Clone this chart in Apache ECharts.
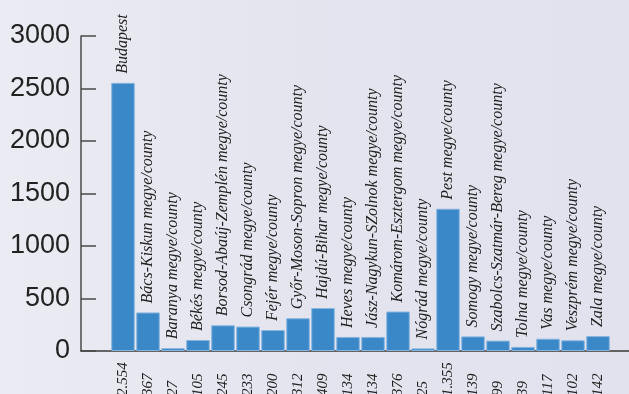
<!DOCTYPE html>
<html>
<head>
<meta charset="utf-8">
<script src="https://cdn.jsdelivr.net/npm/echarts@6/dist/echarts.min.js"></script>
<style>
html,body{margin:0;padding:0;background:#e6e6ef;}
#chart{width:629px;height:394px;}
</style>
</head>
<body>
<div id="chart"></div>
<script>
var categories = [
  "Budapest",
  "Bács-Kiskun megye/county",
  "Baranya megye/county",
  "Békés megye/county",
  "Borsod-Abaúj-Zemplén megye/county",
  "Csongrád megye/county",
  "Fejér megye/county",
  "Győr-Moson-Sopron megye/county",
  "Hajdú-Bihar megye/county",
  "Heves megye/county",
  "Jász-Nagykun-SZolnok megye/county",
  "Komárom-Esztergom megye/county",
  "Nógrád megye/county",
  "Pest megye/county",
  "Somogy megye/county",
  "Szabolcs-Szatmár-Bereg megye/county",
  "Tolna megye/county",
  "Vas megye/county",
  "Veszprém megye/county",
  "Zala megye/county"
];
var values = [2554, 367, 27, 105, 245, 233, 200, 312, 409, 134, 134, 376, 25, 1355, 139, 99, 39, 117, 102, 142];
var valueLabels = ["2.554","367","27","105","245","233","200","312","409","134","134","376","25","1.355","139","99","39","117","102","142"];
var yTicks = [0, 500, 1000, 1500, 2000, 2500, 3000];

var chart = echarts.init(document.getElementById('chart'), null, {renderer: 'canvas'});
var serif = "'Liberation Serif', 'DejaVu Serif', serif";
chart.setOption({
  backgroundColor: {
    type: 'linear', x: 0, y: 0, x2: 1, y2: 0,
    colorStops: [
      {offset: 0, color: '#ebebf3'},
      {offset: 0.5, color: '#e4e4ef'},
      {offset: 1, color: '#e2e2ee'}
    ]
  },
  animation: false,
  grid: [
    {left: 81, right: 0, top: 36, bottom: 43, containLabel: false, outerBoundsMode: 'none'},
    {left: 110.5, width: 500, top: 36, bottom: 43, containLabel: false, outerBoundsMode: 'none'}
  ],
  xAxis: [
    {
      gridIndex: 0, type: 'category', data: [''],
      axisLine: {show: true, lineStyle: {color: '#3a3a3a', width: 1.5}},
      axisTick: {show: false}, axisLabel: {show: false}
    },
    {
      gridIndex: 1, type: 'category', data: valueLabels,
      axisLine: {show: false}, axisTick: {show: false},
      axisLabel: {
        show: true, rotate: 90, interval: 0, margin: 45, align: 'left',
        fontFamily: serif, fontStyle: 'italic', fontSize: 15, color: '#222'
      }
    }
  ],
  yAxis: [
    {
      gridIndex: 0, type: 'value', min: yTicks[0], max: yTicks[yTicks.length - 1], interval: 500,
      axisLine: {show: true, lineStyle: {color: '#4a4a4a', width: 1.5}},
      axisTick: {show: true, inside: true, length: 15, lineStyle: {color: '#4a4a4a', width: 1.5}},
      axisLabel: {
        margin: 11, fontSize: 27, color: '#222',
        fontFamily: "'Liberation Sans', 'Open Sans', sans-serif",
        formatter: function (v) { return String(v); }
      },
      splitLine: {show: false}
    },
    {
      gridIndex: 1, type: 'value', min: 0, max: 3000, interval: 500, show: false
    }
  ],
  series: [{
    type: 'bar', xAxisIndex: 1, yAxisIndex: 1,
    data: values, barWidth: 23.5,
    itemStyle: {color: '#3a88c8', borderColor: '#86b5df', borderWidth: 1},
    label: {
      show: true, position: 'top', rotate: 90, distance: 9,
      align: 'left', verticalAlign: 'middle',
      fontFamily: serif, fontStyle: 'italic', fontSize: 16, color: '#222',
      formatter: function (p) { return categories[p.dataIndex]; }
    }
  }]
});
</script>
</body>
</html>
